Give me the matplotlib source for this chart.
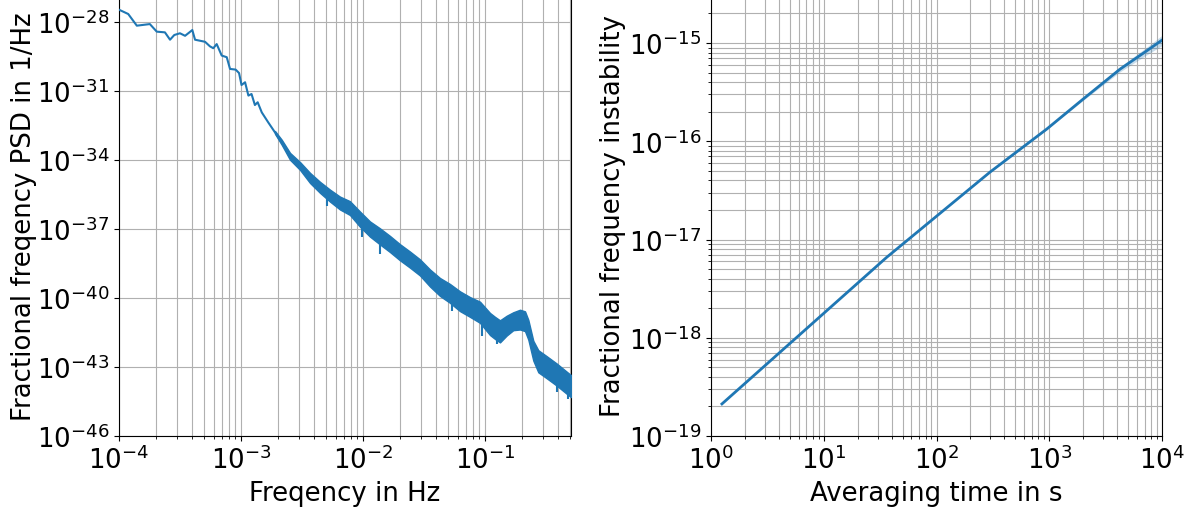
import numpy as np
import matplotlib
matplotlib.use("Agg")
import matplotlib.pyplot as plt
from matplotlib.ticker import LogLocator, NullLocator, NullFormatter

# ---- Fractional frequency PSD (left panel) ----
# low-frequency part, few spectral bins: frequency in Hz, log10 of PSD in 1/Hz
psd_freq_low = [1.0e-4, 1.19e-4, 1.40e-4, 1.79e-4, 2.04e-4, 2.38e-4, 2.62e-4, 2.84e-4,
                3.16e-4, 3.48e-4, 3.99e-4, 4.2e-4, 5.07e-4, 5.57e-4, 5.93e-4, 6.32e-4,
                6.95e-4, 7.64e-4, 8.13e-4, 9.04e-4, 9.64e-4, 1.01e-3, 1.08e-3, 1.15e-3,
                1.22e-3, 1.30e-3, 1.37e-3, 1.48e-3, 1.67e-3]
psd_log_low = [-27.465, -27.652, -28.16, -28.09, -28.42, -28.45, -28.77, -28.565,
               -28.49, -28.6, -28.35, -28.77, -28.86, -29.06, -29.14, -28.96,
               -29.46, -29.53, -30.04, -30.07, -30.22, -30.74, -30.62, -31.2,
               -31.13, -31.61, -31.49, -31.93, -32.36]

# dense part: frequency in Hz, log10 of PSD (median, upper and lower scatter)
psd_freq_band = [1.90e-3, 2.158e-3, 2.523e-3, 3.048e-3, 3.681e-3, 4.446e-3, 5.370e-3,
                 6.471e-3, 7.816e-3, 9.441e-3, 1.140e-2, 1.377e-2, 1.663e-2, 2.009e-2,
                 2.427e-2, 2.931e-2, 3.540e-2, 4.276e-2, 5.164e-2, 6.237e-2, 7.534e-2,
                 9.099e-2, 0.1099, 0.1208, 0.1327, 0.1507, 0.1706, 0.1936, 0.2128,
                 0.2265, 0.2489, 0.2735, 0.3206, 0.3873, 0.4819, 0.5070]
psd_log_mid = [-32.80, -33.23, -33.84, -34.26, -34.78, -35.19, -35.55, -35.87, -36.09,
               -36.57, -37.00, -37.32, -37.65, -38.01, -38.33, -38.67, -39.13, -39.52,
               -39.80, -40.14, -40.39, -40.62, -41.13, -41.30, -41.45, -41.20, -41.01,
               -40.94, -41.01, -41.38, -42.29, -42.75, -43.01, -43.33, -43.74, -43.83]
psd_log_upper = [-32.74, -33.12, -33.69, -34.09, -34.56, -34.95, -35.29, -35.59, -35.79,
                 -36.24, -36.67, -36.97, -37.30, -37.66, -37.98, -38.32, -38.76, -39.13,
                 -39.39, -39.71, -39.96, -40.16, -40.65, -40.82, -40.97, -40.77, -40.62,
                 -40.51, -40.58, -40.95, -41.86, -42.27, -42.53, -42.85, -43.26, -43.35]
psd_log_lower = [-32.86, -33.34, -33.99, -34.43, -35.00, -35.43, -35.81, -36.15, -36.39,
                 -36.90, -37.33, -37.67, -38.00, -38.36, -38.68, -39.02, -39.50, -39.91,
                 -40.21, -40.57, -40.82, -41.08, -41.61, -41.78, -41.93, -41.63, -41.40,
                 -41.37, -41.44, -41.81, -42.72, -43.23, -43.49, -43.81, -44.22, -44.31]

# isolated low outliers in the dense part
spike_freq = [5.035e-3, 9.75e-3, 1.377e-2, 5.33e-2, 9.40e-2, 0.1247, 0.3873, 0.4819]
spike_log_top = [-35.43, -36.63, -37.32, -39.86, -40.70, -41.37, -43.33, -43.74]
spike_log_low = [-35.99, -37.36, -38.09, -40.55, -41.64, -42.00, -44.09, -44.39]

psd_xticks = [1e-4, 1e-3, 1e-2, 1e-1]
psd_yticks = [1e-46, 1e-43, 1e-40, 1e-37, 1e-34, 1e-31, 1e-28]

# ---- Allan deviation (right panel) ----
tau = [1.25, 36.1, 298, 949, 1991, 4236, 7311, 10000]
adev = [2.12e-19, 6.58e-18, 4.85e-17, 1.33e-16, 2.68e-16, 5.41e-16, 8.32e-16, 1.07e-15]
adev_rel_err = [0.0, 0.0, 0.005, 0.015, 0.03, 0.06, 0.09, 0.12]

adev_xticks = [1e0, 1e1, 1e2, 1e3, 1e4]
adev_yticks = [1e-19, 1e-18, 1e-17, 1e-16, 1e-15]

color = "#1f77b4"
fs = 18.7

fig = plt.figure(figsize=(11.94, 5.10), dpi=100)

# left panel
ax1 = fig.add_axes([119 / 1194, 73 / 510, 452 / 1194, 441.6 / 510])
f_line = np.array(psd_freq_low + psd_freq_band)
s_line = 10.0 ** np.array(psd_log_low + psd_log_mid)
ax1.plot(f_line, s_line, color=color, lw=1.5, zorder=3)
ax1.fill_between(psd_freq_band, 10.0 ** np.array(psd_log_lower),
                 10.0 ** np.array(psd_log_upper), color=color, lw=1.0,
                 edgecolor=color, zorder=3)
ax1.vlines(spike_freq, 10.0 ** np.array(spike_log_low), 10.0 ** np.array(spike_log_top),
           color=color, lw=1.5, zorder=3)
ax1.set_xscale("log")
ax1.set_yscale("log")
ax1.set_xlim(1e-4, 0.507)
ax1.set_ylim(1e-46, 10 ** -26.8)
ax1.set_xticks(psd_xticks)
ax1.set_yticks(psd_yticks)
ax1.yaxis.set_minor_locator(NullLocator())
ax1.xaxis.set_minor_locator(LogLocator(base=10, subs=np.arange(2, 10), numticks=20))
ax1.xaxis.set_minor_formatter(NullFormatter())
ax1.grid(True, which="both", color="#b0b0b0", lw=0.8)
ax1.set_axisbelow(True)
ax1.tick_params(labelsize=fs)
ax1.set_xlabel("Freqency in Hz", fontsize=fs)
ax1.set_ylabel("Fractional freqency PSD in 1/Hz", fontsize=fs, labelpad=0)

# right panel
ax2 = fig.add_axes([711 / 1194, 73 / 510, 451 / 1194, 442.1 / 510])
tau_a = np.array(tau)
adev_a = np.array(adev)
err_a = np.array(adev_rel_err)
ax2.fill_between(tau_a, adev_a * (1 - err_a), adev_a * (1 + err_a), color=color,
                 alpha=0.25, lw=0, zorder=2)
ax2.plot(tau_a, adev_a, color=color, lw=2.0, zorder=3)
ax2.set_xscale("log")
ax2.set_yscale("log")
ax2.set_xlim(1, 1e4)
ax2.set_ylim(1e-19, 10 ** -14.5)
ax2.set_xticks(adev_xticks)
ax2.set_yticks(adev_yticks)
ax2.xaxis.set_minor_locator(LogLocator(base=10, subs=np.arange(2, 10), numticks=20))
ax2.yaxis.set_minor_locator(LogLocator(base=10, subs=np.arange(2, 10), numticks=20))
ax2.xaxis.set_minor_formatter(NullFormatter())
ax2.yaxis.set_minor_formatter(NullFormatter())
ax2.grid(True, which="both", color="#b0b0b0", lw=0.8)
ax2.set_axisbelow(True)
ax2.tick_params(labelsize=fs)
ax2.set_xlabel("Averaging time in s", fontsize=fs)
ax2.set_ylabel("Fractional frequency instability", fontsize=fs, labelpad=2)

fig.savefig("out.png", dpi=100)
